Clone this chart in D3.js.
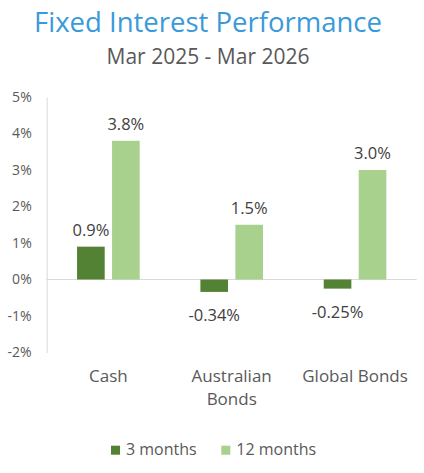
<!DOCTYPE html>
<html>
<head>
<meta charset="utf-8">
<script src="https://cdn.jsdelivr.net/npm/d3@7"></script>
<style>
  body { margin: 0; background: #fff; }
  text { font-family: "Open Sans", sans-serif; }
</style>
</head>
<body>
<div id="chart"></div>
<script>
// chart data
const categories = ["Cash", "Australian Bonds", "Global Bonds"];
const seriesNames = ["3 months", "12 months"];
const threeMonths = [0.9, -0.34, -0.25];
const twelveMonths = [3.8, 1.5, 3.0];
const labels3m = ["0.9%", "-0.34%", "-0.25%"];
const labels12m = ["3.8%", "1.5%", "3.0%"];
const yTicks = [-2, -1, 0, 1, 2, 3, 4, 5];

const width = 424, height = 473;
const colors = ["#548235", "#A9D18E"];

const svg = d3.select("#chart").append("svg")
    .attr("width", width)
    .attr("height", height);

// titles
svg.append("text")
    .attr("x", 208).attr("y", 32)
    .attr("text-anchor", "middle")
    .style("font-size", "27.5px")
    .style("fill", "#3A9AD9")
    .text("Fixed Interest Performance");

svg.append("text")
    .attr("x", 208).attr("y", 64)
    .attr("text-anchor", "middle")
    .style("font-size", "21px")
    .style("fill", "#595959")
    .text("Mar 2025 - Mar 2026");

// scales
const x0 = d3.scaleBand().domain(categories).range([46.7, 416.7]);
const x1 = d3.scaleBand().domain(seriesNames)
    .range([x0.bandwidth() / 2 - 31.3, x0.bandwidth() / 2 + 31.3])
    .paddingInner(0.21);
const y = d3.scaleLinear().domain([-2, 5]).range([352.5, 97]);

// y axis
const yAxis = svg.append("g")
    .attr("transform", "translate(46.7,0)")
    .call(d3.axisLeft(y).tickValues(yTicks).tickSize(0).tickPadding(15)
        .tickFormat(d => d + "%"));
yAxis.select(".domain").attr("stroke", "#d9d9d9");
yAxis.selectAll("text")
    .style("font-size", "14px")
    .style("fill", "#595959")
    .style("font-family", "'Open Sans', sans-serif");

// zero line
svg.append("line")
    .attr("x1", x0.range()[0]).attr("x2", x0.range()[1])
    .attr("y1", y(0)).attr("y2", y(0))
    .attr("stroke", "#d9d9d9");

const rows = categories.map((c, i) => ({
  cat: c,
  vals: [
    { s: seriesNames[0], v: threeMonths[i], label: labels3m[i] },
    { s: seriesNames[1], v: twelveMonths[i], label: labels12m[i] }
  ]
}));

const groups = svg.selectAll(".grp")
    .data(rows)
    .enter().append("g")
    .attr("class", "grp")
    .attr("transform", d => `translate(${x0(d.cat)},0)`);

groups.selectAll("rect")
    .data(d => d.vals)
    .enter().append("rect")
    .attr("x", d => x1(d.s))
    .attr("width", x1.bandwidth())
    .attr("y", d => y(Math.max(0, d.v)))
    .attr("height", d => Math.abs(y(d.v) - y(0)))
    .attr("fill", (d, i) => colors[i]);

groups.selectAll(".lbl")
    .data(d => d.vals)
    .enter().append("text")
    .attr("class", "lbl")
    .attr("x", d => x1(d.s) + x1.bandwidth() / 2)
    .attr("y", d => d.v >= 0 ? y(d.v) - 11 : y(d.v) + 29)
    .attr("text-anchor", "middle")
    .style("font-size", "16.5px")
    .style("fill", "#404040")
    .text(d => d.label);

// category labels, Australian Bonds wraps onto two lines
const catLines = { "Cash": ["Cash"], "Australian Bonds": ["Australian", "Bonds"], "Global Bonds": ["Global Bonds"] };
svg.selectAll(".cat")
    .data(categories)
    .enter().append("text")
    .attr("class", "cat")
    .attr("x", d => x0(d) + x0.bandwidth() / 2)
    .attr("y", 382)
    .attr("text-anchor", "middle")
    .style("font-size", "17px")
    .style("fill", "#595959")
    .each(function(d) {
      const t = d3.select(this);
      catLines[d].forEach((line, i) => {
        t.append("tspan")
          .attr("x", x0(d) + x0.bandwidth() / 2)
          .attr("dy", i === 0 ? 0 : 23)
          .text(line);
      });
    });

// legend
const legend = svg.append("g").attr("transform", "translate(111,445.7)");
const legendX = [0, 110.3];
seriesNames.forEach((s, i) => {
  const g = legend.append("g").attr("transform", `translate(${legendX[i]},0)`);
  g.append("rect").attr("width", 9).attr("height", 9).attr("fill", colors[i]);
  g.append("text")
    .attr("x", 15).attr("y", 9)
    .style("font-size", "16px")
    .style("fill", "#595959")
    .text(s);
});
</script>
</body>
</html>
